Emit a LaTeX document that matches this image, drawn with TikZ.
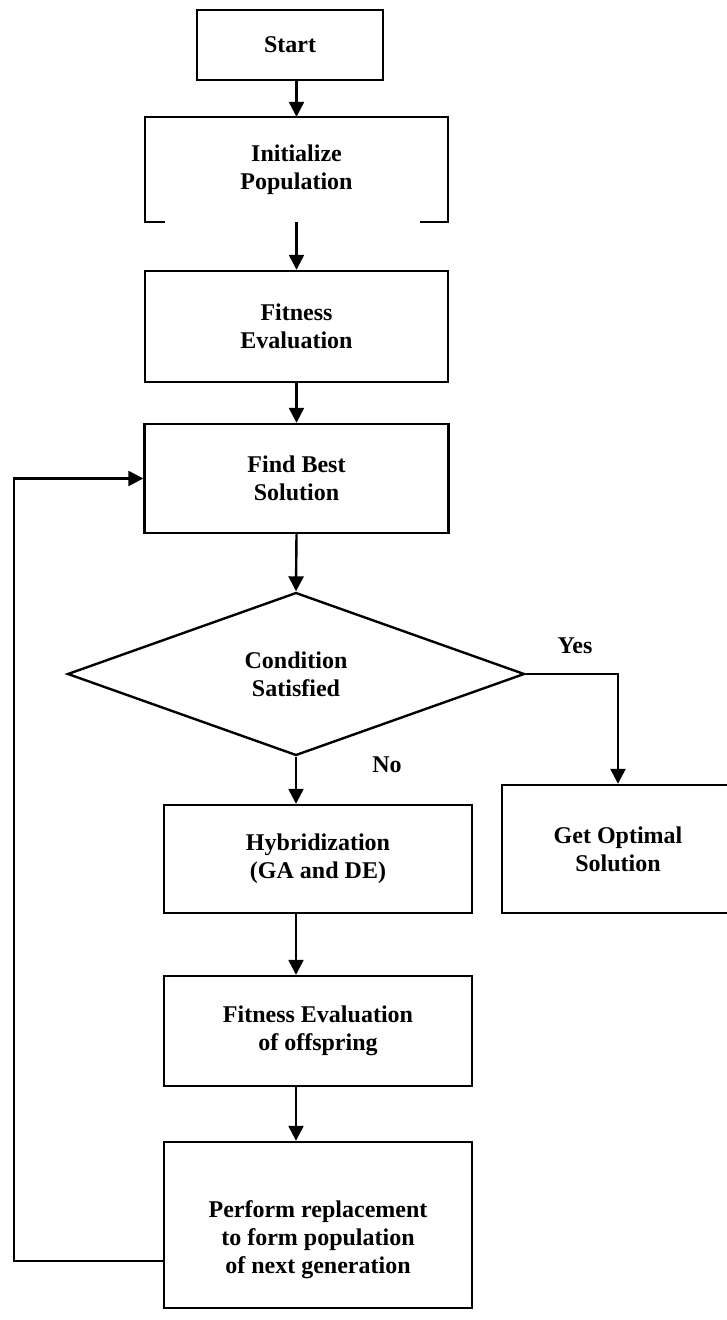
\documentclass[tikz,border=0pt]{standalone}
\usepackage{fontspec}
\setmainfont{Liberation Serif}
\usetikzlibrary{shapes.geometric,arrows.meta,calc}
\tikzset{
  stepbox/.style={draw,line width=2.4pt,rectangle,align=center,inner sep=0pt},
  flow/.style={line width=2.4pt,-{Triangle[length=15pt,width=15pt]}},
  lbl/.style={font=\bfseries\fontsize{24}{28}\selectfont}
}
\begin{document}
\begin{tikzpicture}[x=1pt,y=-1pt,every node/.style={font=\bfseries\fontsize{24}{28}\selectfont}]
  \useasboundingbox (0,0) rectangle (727,1320);
  % main column
  \node[stepbox,minimum width=186pt,minimum height=70pt] (start) at (290,45) {Start};
  \node[align=center,minimum width=303pt,minimum height=105pt,inner sep=0pt] (init) at (296.5,169.5) {Initialize\\Population};
  \draw[line width=2.4pt] ($(init.south west)+(20,0)$) -- (init.south west) -- (init.north west)
    -- (init.north east) -- (init.south east) -- ($(init.south east)+(-28,0)$);
  \node[stepbox,minimum width=303pt,minimum height=111pt] (fit) at (296.5,326.5) {Fitness\\Evaluation};
  \node[stepbox,minimum width=304pt,minimum height=109pt] (best) at (296.5,478.5) {Find Best\\Solution};
  \node[draw,line width=2.4pt,diamond,aspect=2.8,minimum width=457pt,minimum height=163pt,inner sep=0pt,align=center] (dec) at (296,674) {Condition\\Satisfied};
  \node[stepbox,minimum width=308pt,minimum height=108pt] (hyb) at (318,859) {Hybridization\\(GA and DE)};
  \node[stepbox,minimum width=308pt,minimum height=110pt] (offs) at (318,1031) {Fitness Evaluation\\of offspring};
  \node[stepbox,minimum width=308pt,minimum height=166pt] (perform) at (318,1225) {};
  \node[align=center] (performtext) at (318,1240) {Perform replacement\\to form population\\of next generation};
  % yes branch
  \node[stepbox,minimum width=232pt,minimum height=128pt] (opt) at (618,849) {Get Optimal\\Solution};
  \node[lbl] (yes) at (575,646) {Yes};
  \node[lbl] (no) at (387,765) {No};
  % connectors
  \draw[flow] (init.north |- start.south) -- (init.north);
  \draw[flow] (init.south) -- (fit.north);
  \draw[flow] (fit.south) -- (best.north);
  \draw[flow] (best.south) -- (dec.north);
  \draw[flow] (dec.south) -- (dec.south |- hyb.north);
  \draw[flow] (dec.south |- hyb.south) -- (dec.south |- offs.north);
  \draw[flow] (dec.south |- offs.south) -- (dec.south |- perform.north);
  \draw[flow] (dec.east) -| (opt.north);
  \coordinate (loopin) at (perform.west |- 0,1261);
  \coordinate (loopx) at (14,1261);
  \draw[flow] (loopin) -- (loopx) |- (best.west);
\end{tikzpicture}
\end{document}
